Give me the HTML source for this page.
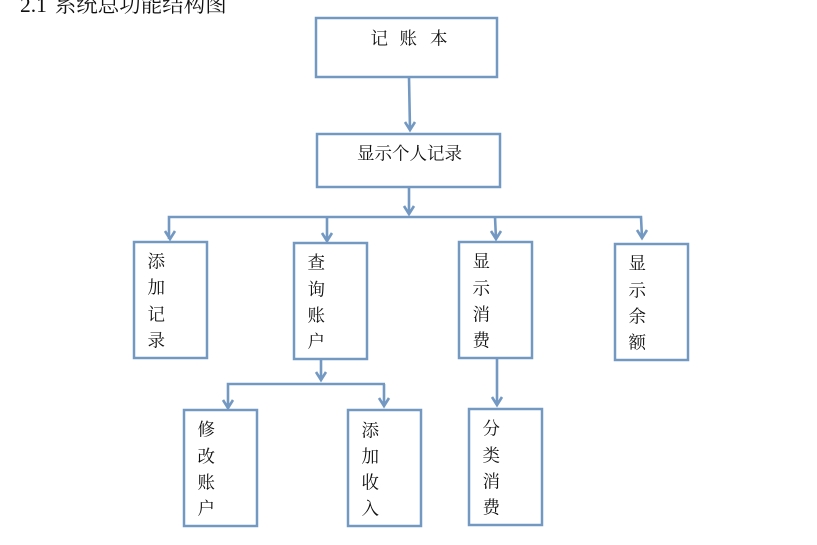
<!DOCTYPE html>
<html><head><meta charset="utf-8"><style>
html,body{margin:0;padding:0;background:#fff;width:817px;height:545px;overflow:hidden}
svg{display:block}
text{font-family:"Liberation Serif","Noto Serif CJK SC",serif;fill:#111;font-size:17.5px}
.b{fill:#fff;stroke:#7399c3;stroke-width:2.5}
.l{fill:none;stroke:#7399c3;stroke-width:2.6}
</style></head><body>
<svg width="817" height="545" viewBox="0 0 817 545" xmlns="http://www.w3.org/2000/svg">
<text x="20" y="12" style="font-size:21.5px" word-spacing="2.5">2.1 系统总功能结构图</text>
<rect class="b" x="316" y="18" width="181" height="59"/>
<rect class="b" x="317" y="134" width="183" height="53"/>
<rect class="b" x="134" y="242" width="73" height="116"/>
<rect class="b" x="294" y="243" width="73" height="116"/>
<rect class="b" x="459" y="242" width="73" height="116"/>
<rect class="b" x="615" y="244" width="73" height="116"/>
<rect class="b" x="184" y="410" width="73" height="116"/>
<rect class="b" x="348" y="410" width="73" height="116"/>
<rect class="b" x="469" y="409" width="73" height="116"/>
<path class="l" d="M409 77L410 130M405 122L410 130L415 122"/>
<path class="l" d="M409 187V214M404 206L409 214L414 206"/>
<path class="l" d="M169 239V217H641L642 238M165 231L170 239L175 231M637 230L642 238L647 230"/>
<path class="l" d="M327 217V241M322 233L327 241L332 233"/>
<path class="l" d="M495 217L496 239M491 231L496 239L501 231"/>
<path class="l" d="M321 359V380M316 372L321 380L326 372"/>
<path class="l" d="M385 384H228V408M223 400L228 408L233 400M384 384V406M379 398L384 406L389 398"/>
<path class="l" d="M497 358V405M492 397L497 405L502 397"/>
<text x="370.500" y="44.500">记</text><text x="399.500" y="44.500">账</text><text x="430" y="44.500">本</text>
<text x="357" y="159.500">显示个人记录</text>
<text x="147.500" y="267.500">添</text><text x="147.500" y="293.500">加</text><text x="147.500" y="320.500">记</text><text x="147.500" y="346.500">录</text>
<text x="307.500" y="268.500">查</text><text x="307.500" y="295.500">询</text><text x="307.500" y="321.500">账</text><text x="307.500" y="347.500">户</text>
<text x="472.500" y="267.500">显</text><text x="472.500" y="294.500">示</text><text x="472.500" y="320.500">消</text><text x="472.500" y="346.500">费</text>
<text x="628.500" y="269.500">显</text><text x="628.500" y="296.500">示</text><text x="628.500" y="322.500">余</text><text x="628.500" y="348.500">额</text>
<text x="197.500" y="435.500">修</text><text x="197.500" y="462.500">改</text><text x="197.500" y="488.500">账</text><text x="197.500" y="514.500">户</text>
<text x="361.500" y="436.500">添</text><text x="361.500" y="462.500">加</text><text x="361.500" y="488.500">收</text><text x="361.500" y="514.500">入</text>
<text x="482.500" y="434.500">分</text><text x="482.500" y="461.500">类</text><text x="482.500" y="487.500">消</text><text x="482.500" y="513.500">费</text>
</svg>
</body></html>
